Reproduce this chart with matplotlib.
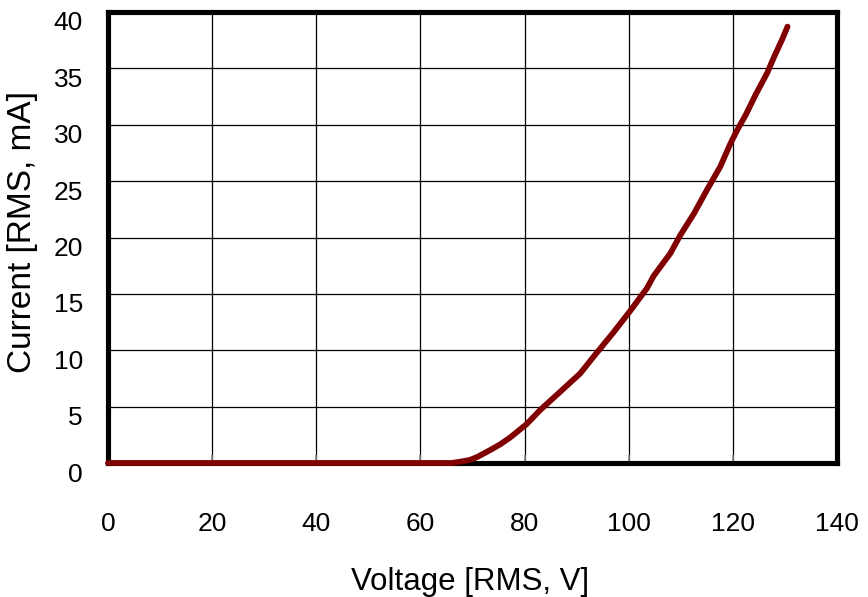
import matplotlib
matplotlib.use("Agg")
import matplotlib.pyplot as plt
from matplotlib.transforms import ScaledTranslation

# Measured RMS voltage (V) and RMS current (mA)
voltage = [0, 20, 40, 60, 66, 67.5, 69.5, 71, 73.4, 75.3, 77.2, 80.4, 83, 86.8,
           90.7, 93.2, 97.1, 100.3, 103.5, 104.8, 108, 109.9, 112.5, 115, 117.6,
           119.5, 120.8, 122.5, 124.3, 126.6, 127.9, 129.5, 130.5]
current = [0, 0, 0, 0, 0, 0.1, 0.27, 0.55, 1.15, 1.65, 2.25, 3.45, 4.7, 6.3,
           7.95, 9.4, 11.6, 13.5, 15.5, 16.6, 18.6, 20.2, 22.1, 24.2, 26.3,
           28.3, 29.5, 30.9, 32.6, 34.6, 36.0, 37.6, 38.7]

x_ticks = [0, 20, 40, 60, 80, 100, 120, 140]
y_ticks = [0, 5, 10, 15, 20, 25, 30, 35, 40]

plt.rcParams['font.family'] = ['Liberation Sans', 'DejaVu Sans']

fig = plt.figure(figsize=(8.68, 5.97), dpi=100)
ax = fig.add_axes([108 / 868, 1 - 463 / 597, 729 / 868, 451 / 597])

ax.plot(voltage, current, color='#800000', linewidth=4.2,
        solid_capstyle='round', solid_joinstyle='round', zorder=5, clip_on=False)

ax.set_xlim(0, 140)
ax.set_ylim(0, 40)
ax.set_xticks(x_ticks)
ax.set_yticks(y_ticks)
ax.set_xticklabels([str(v) for v in x_ticks])
ax.set_yticklabels([str(v) for v in y_ticks])

ax.grid(True, color='black', linewidth=0.9)
ax.set_axisbelow(True)

for side in ['left', 'right', 'top', 'bottom']:
    ax.spines[side].set_linewidth(3.7)
    ax.spines[side].set_color('black')

ax.tick_params(axis='x', direction='in', length=6, width=1.2, color='#888888',
               labelsize=19, pad=35)
ax.tick_params(axis='y', length=0, labelsize=19, pad=18)

# y tick labels sit slightly below their gridlines
offset = ScaledTranslation(0, -9 / 100, fig.dpi_scale_trans)
for lbl in ax.get_yticklabels():
    lbl.set_transform(lbl.get_transform() + offset)

fig.text(470 / 868, 1 - 590 / 597, 'Voltage [RMS, V]', fontsize=22.5,
         ha='center', va='baseline')
fig.text(23 / 868, 1 - 232 / 597, 'Current [RMS, mA]', fontsize=24,
         rotation=90, ha='center', va='center')

fig.savefig('out.png', dpi=100)
